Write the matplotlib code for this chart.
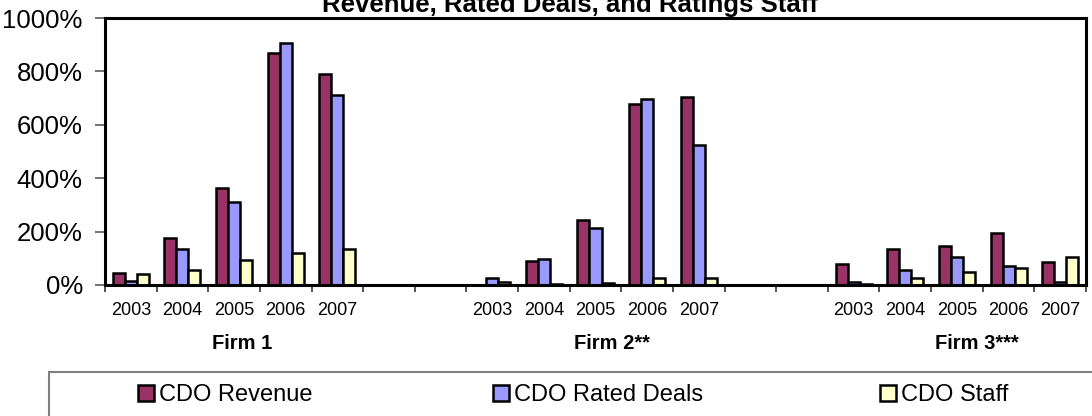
import matplotlib
matplotlib.use("Agg")
import matplotlib.pyplot as plt
import matplotlib.transforms as mtransforms
from matplotlib.patches import Rectangle
import numpy as np

plt.rcParams['font.family'] = ['Liberation Sans', 'DejaVu Sans']

firms = ['Firm 1', 'Firm 2**', 'Firm 3***']
years = ['2003', '2004', '2005', '2006', '2007']

# growth since base year, in percent
revenue = [[44, 177, 364, 870, 789],
           [0, 90, 243, 677, 705],
           [80, 136, 145, 193, 87]]
rated_deals = [[16, 134, 310, 907, 710],
               [27, 99, 212, 698, 525],
               [13, 56, 106, 72, 12]]
staff = [[40, 56, 95, 119, 136],
         [10, 3, 7, 25, 27],
         [5, 27, 49, 63, 103]]

series = [('CDO Revenue', revenue, '#993366'),
          ('CDO Rated Deals', rated_deals, '#9999FF'),
          ('CDO Staff', staff, '#FFFFCC')]

gap = 2
nslots = len(firms) * len(years) + gap * (len(firms) - 1)

fig = plt.figure(figsize=(10.92, 4.16), dpi=100)
ax = fig.add_axes([105 / 1092, 1 - 285 / 416, 981 / 1092, 267 / 416])

w = 0.233
starts = [f * (len(years) + gap) for f in range(len(firms))]
centers = np.array([np.arange(s, s + len(years)) + 0.5 for s in starts])

bars = []
for i, (name, vals, col) in enumerate(series):
    b = None
    for f in range(len(firms)):
        b = ax.bar(centers[f] + (i - 1) * w, vals[f], width=w, color=col,
                   edgecolor='black', linewidth=1.8, label=name)
    bars.append(b)

ax.set_xlim(0, nslots)
ax.set_ylim(0, 1000)
ax.set_yticks(np.arange(0, 1001, 200))
ax.set_yticklabels(['%d%%' % v for v in range(0, 1001, 200)], fontsize=18.5)
ax.set_xticks(np.arange(0, nslots + 1))
ax.set_xticklabels([])
ax.set_xticks(centers.flatten(), minor=True)
ax.set_xticklabels(years * len(firms), minor=True, fontsize=13)
ax.tick_params(axis='x', which='major', length=5, width=1.2, direction='out', color='#333333')
ax.tick_params(axis='x', which='minor', length=0, pad=12)
ax.tick_params(axis='y', length=7, width=1.3, color='#666666', pad=9)
for s in ax.spines.values():
    s.set_linewidth(2.2)
    s.set_color('black')

trans = mtransforms.blended_transform_factory(ax.transData, fig.transFigure)
for f, firm in enumerate(firms):
    ax.text(starts[f] + 2.08, 1 - 349 / 416, firm, transform=trans, ha='left', va='baseline',
            fontsize=14.5, fontweight='bold')

fig.text(0.522, 1 - 11.7 / 416, 'Revenue, Rated Deals, and Ratings Staff', ha='center',
         va='baseline', fontsize=18.5, fontweight='bold')

# legend frame (runs off the bottom of the picture)
fig.patches.append(Rectangle((49 / 1092, 1 - 440 / 416), 1060 / 1092, 68 / 416,
                             transform=fig.transFigure, facecolor='white',
                             edgecolor='#808080', linewidth=1.5))
xs = [138, 493, 880]
for b, x in zip(bars, xs):
    fig.legend(handles=[b], loc='center left', bbox_to_anchor=(x / 1092, 1 - 395 / 416),
               frameon=False, fontsize=17, handlelength=0.68, handleheight=0.68,
               handletextpad=0.2, borderpad=0, borderaxespad=0)

fig.savefig('out.png', dpi=100)
